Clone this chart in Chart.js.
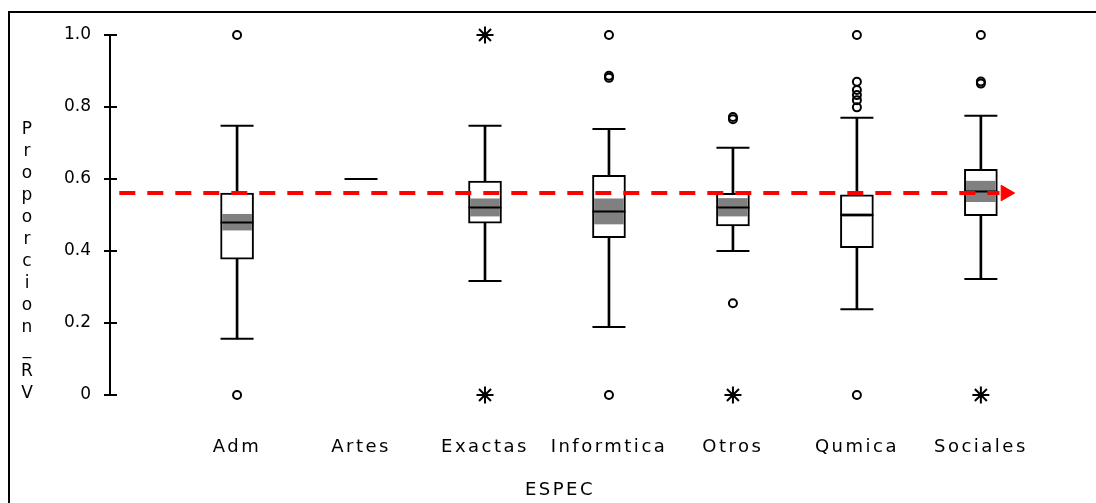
<!DOCTYPE html>
<html>
<head>
<meta charset="utf-8">
<script src="https://cdn.jsdelivr.net/npm/chart.js@4/dist/chart.umd.min.js"></script>
<style>
  html, body { margin: 0; padding: 0; background: #fff; }
  #wrap { width: 1096px; height: 503px; }
</style>
</head>
<body>
<div id="wrap"><canvas id="chart"></canvas></div>
<script>
// --- DATA ---
const categories  = ['Adm', 'Artes', 'Exactas', 'Informtica', 'Otros', 'Qumica', 'Sociales'];
const whiskerLow  = [0.156, null, 0.317, 0.189, 0.400, 0.238, 0.322];
const quartile1   = [0.377, null, 0.477, 0.437, 0.470, 0.409, 0.498];
const medians     = [0.479, 0.600, 0.521, 0.510, 0.521, 0.500, 0.565];
const quartile3   = [0.561, null, 0.594, 0.610, 0.560, 0.556, 0.627];
const whiskerHigh = [0.748, null, 0.748, 0.739, 0.687, 0.770, 0.776];
// grey band round the median
const bandLow     = [0.458, null, 0.497, 0.475, 0.497, 0.496, 0.537];
const bandHigh    = [0.502, null, 0.545, 0.545, 0.546, 0.504, 0.594];
// circles (outliers) and stars (extremes)
const outliers = [
    [1.0, 0],
    [],
    [],
    [1.0, 0.887, 0.881, 0],
    [0.772, 0.766, 0.255],
    [1.0, 0.870, 0.847, 0.833, 0.819, 0.799, 0],
    [1.0, 0.871, 0.865]
];
const extremes = [[], [], [1.0, 0], [], [0], [], [0]];
const yTicks = [0, 0.2, 0.4, 0.6, 0.8, 1.0];
// red reference line
const refValue = 0.561;
const refStart = -0.95;
const refEnd = 6.15;
const arrowAt = 6.2;

const FONT = '"DejaVu Sans", sans-serif';

// helpers to turn the arrays into {x, y} points
const points = (arr) => arr.map((v, i) => v == null ? null : { x: i, y: v }).filter(Boolean);
const ranges = (lo, hi) => lo.map((v, i) => v == null ? null : { x: i, y: [v, hi[i]] }).filter(Boolean);
const spread = (lists) => lists.flatMap((list, i) => list.map(v => ({ x: i, y: v })));

const capStyle = {
    type: 'scatter',
    showLine: false,
    pointStyle: 'line',
    pointRadius: 16.5,
    pointBorderColor: '#000',
    pointBorderWidth: 2,
    clip: false
};

// frame, stacked y title, inner half of the tick crosses
const decor = {
    id: 'decor',
    beforeDraw(chart) {
        const { ctx } = chart;
        ctx.letterSpacing = '0px';
        ctx.save();
        ctx.fillStyle = '#fff';
        ctx.fillRect(0, 0, chart.width, chart.height);
        ctx.fillStyle = '#000';
        ctx.fillRect(8, 11, chart.width - 8, 2);
        ctx.fillRect(8, 11, 2, chart.height - 11);
        ctx.font = '17px ' + FONT;
        ctx.textAlign = 'center';
        ctx.textBaseline = 'middle';
        [...'Proporcion_RV'].forEach((ch, i) => ctx.fillText(ch, 27, 130 + i * 22));
        ctx.restore();
    },
    afterDatasetsDraw(chart) {
        const { ctx, chartArea, scales: { y } } = chart;
        ctx.save();
        ctx.strokeStyle = '#000';
        ctx.lineWidth = 2;
        y.ticks.forEach(t => {
            const py = Math.round(y.getPixelForValue(t.value));
            ctx.beginPath();
            ctx.moveTo(chartArea.left, py);
            ctx.lineTo(chartArea.left + 7, py);
            ctx.stroke();
        });
        ctx.restore();
        // x labels and title are drawn after this (z = 1), spaced out
        ctx.letterSpacing = '2.5px';
    }
};

new Chart(document.getElementById('chart'), {
    type: 'bar',
    data: {
        datasets: [
            {   // whisker stems
                data: ranges(whiskerLow, whiskerHigh),
                backgroundColor: '#000',
                borderWidth: 0,
                barThickness: 2,
                grouped: false,
                clip: false,
                order: 10
            },
            { ...capStyle, data: points(whiskerLow), order: 9 },
            { ...capStyle, data: points(whiskerHigh), order: 9 },
            {   // boxes
                data: ranges(quartile1, quartile3),
                backgroundColor: '#fff',
                borderColor: '#000',
                borderWidth: 2,
                borderSkipped: false,
                barThickness: 33,
                grouped: false,
                clip: false,
                order: 8
            },
            {   // grey band
                data: ranges(bandLow, bandHigh),
                backgroundColor: '#808080',
                borderWidth: 0,
                barThickness: 29,
                grouped: false,
                clip: false,
                order: 7
            },
            { ...capStyle, data: points(medians), order: 6 },
            {
                type: 'scatter',
                data: spread(outliers),
                pointStyle: 'circle',
                pointRadius: 4,
                pointBackgroundColor: 'rgba(0,0,0,0)',
                pointBorderColor: '#000',
                pointBorderWidth: 2,
                clip: false,
                order: 5
            },
            {
                type: 'scatter',
                data: spread(extremes),
                pointStyle: 'star',
                pointRadius: 8.5,
                pointBorderColor: '#000',
                pointBorderWidth: 2,
                clip: false,
                order: 4
            },
            {
                type: 'line',
                data: [{ x: refStart, y: refValue }, { x: refEnd, y: refValue }],
                borderColor: '#ff0000',
                borderWidth: 4,
                borderDash: [16, 12],
                pointRadius: 0,
                clip: false,
                order: 2
            },
            {
                type: 'scatter',
                data: [{ x: arrowAt, y: refValue }],
                pointStyle: 'triangle',
                rotation: 90,
                pointRadius: 9,
                pointBackgroundColor: '#ff0000',
                pointBorderColor: '#ff0000',
                pointBorderWidth: 1,
                clip: false,
                order: 1
            }
        ]
    },
    options: {
        responsive: true,
        maintainAspectRatio: false,
        animation: false,
        events: [],
        layout: { padding: { left: 0, top: 35, right: 86, bottom: 0 } },
        plugins: { legend: { display: false }, tooltip: { enabled: false } },
        scales: {
            x: {
                type: 'linear',
                min: -1.025,
                max: 6.235,
                offset: false,
                grid: { display: false, drawTicks: false, z: 1 },
                border: { display: false },
                afterBuildTicks: s => { s.ticks = categories.map((_, i) => ({ value: i })); },
                afterFit: s => { s.height = 108; },
                ticks: {
                    z: 1,
                    autoSkip: false,
                    maxRotation: 0,
                    padding: 42,
                    color: '#000',
                    font: { family: FONT, size: 18 },
                    callback: v => categories[v]
                },
                title: {
                    display: true,
                    text: 'ESPEC',
                    color: '#000',
                    font: { family: FONT, size: 18 },
                    padding: { top: 0, bottom: 2 }
                }
            },
            y: {
                min: 0,
                max: 1,
                afterBuildTicks: s => { s.ticks = yTicks.map(v => ({ value: v })); },
                afterFit: s => { s.width = 110; },
                grid: { drawOnChartArea: false, color: '#000', lineWidth: 2, tickLength: 6 },
                border: { display: true, color: '#000', width: 2 },
                ticks: {
                    padding: 13,
                    color: '#000',
                    font: { family: FONT, size: 17 },
                    callback: v => v === 0 ? '0' : v.toFixed(1)
                }
            }
        }
    },
    plugins: [decor]
});
</script>
</body>
</html>
